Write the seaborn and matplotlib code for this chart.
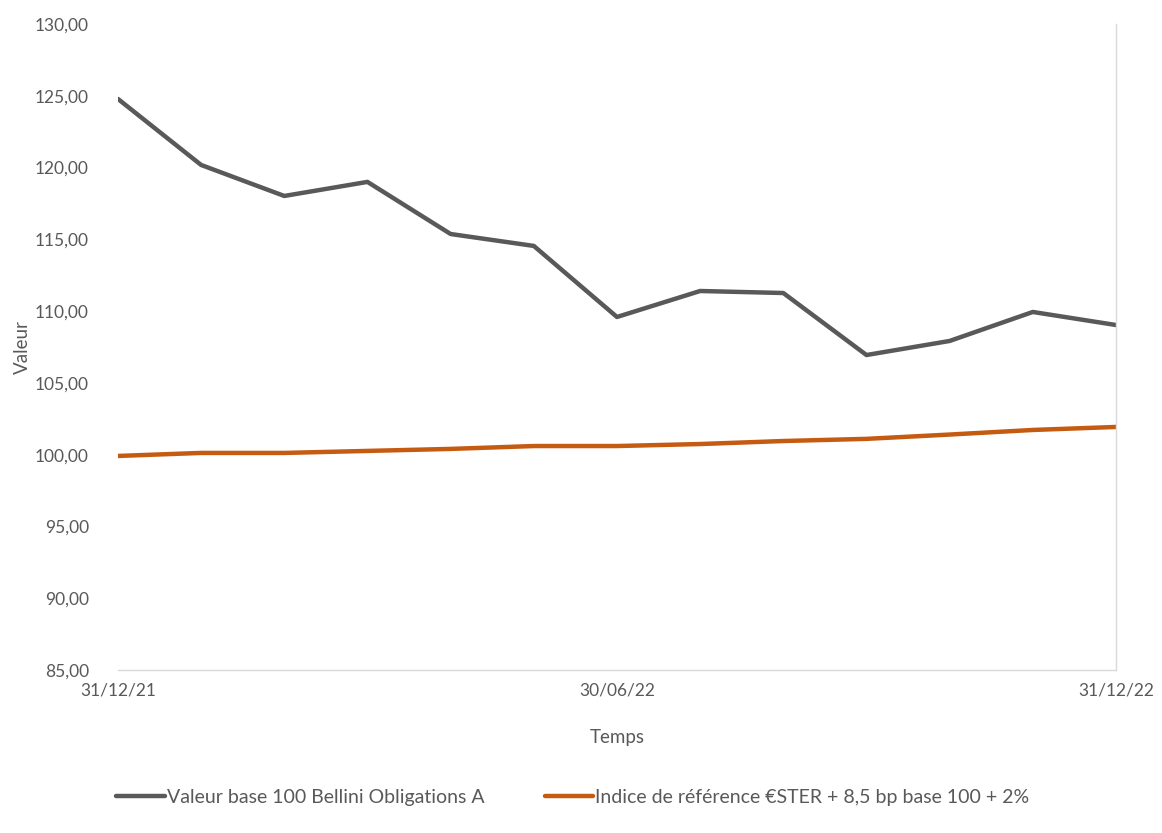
import matplotlib
matplotlib.use("Agg")
import matplotlib.pyplot as plt
import seaborn as sns
import pandas as pd

months = list(range(13))
fund_values = [124.78, 120.18, 118.02, 119.0, 115.37, 114.54, 109.59,
               111.4, 111.26, 106.94, 107.92, 109.94, 109.03]
index_values = [99.91, 100.12, 100.12, 100.26, 100.40, 100.60, 100.60,
                100.74, 100.95, 101.10, 101.40, 101.72, 101.93]
tick_positions = [0, 6, 12]
tick_labels = ["31/12/21", "30/06/22", "31/12/22"]
fund_name = "Valeur base 100 Bellini Obligations A"
index_name = "Indice de référence €STER + 8,5 bp base 100 + 2%"

sns.set_theme(style="white")
plt.rcParams['font.family'] = ['Lato', 'DejaVu Sans']

df = pd.DataFrame({
    "x": months * 2,
    "y": fund_values + index_values,
    "serie": [fund_name] * 13 + [index_name] * 13,
})

fig = plt.figure(figsize=(11.62, 8.33), dpi=100)
ax = fig.add_axes([0.1015, 0.1957, 0.8589, 0.7755])

sns.lineplot(data=df, x="x", y="y", hue="serie", ax=ax,
             palette={fund_name: "#595959", index_name: "#C55A11"},
             linewidth=3.2, legend=False)

ax.set_xlim(0, 12)
ax.set_ylim(85, 130)
ax.set_yticks(range(85, 131, 5))
ax.set_yticklabels([f"{v},00" for v in range(85, 131, 5)])
ax.set_xticks(tick_positions)
ax.set_xticklabels(tick_labels)
ax.tick_params(axis="both", colors="#595959", labelsize=12.5, length=0)
ax.tick_params(axis="y", pad=21)
ax.tick_params(axis="x", pad=9)
for s in ["top", "left"]:
    ax.spines[s].set_visible(False)
for s in ["bottom", "right"]:
    ax.spines[s].set_color("#D9D9D9")
    ax.spines[s].set_linewidth(1.0)

ax.set_xlabel("Temps", color="#595959", fontsize=13.5, labelpad=22)
ax.set_ylabel("Valeur", color="#595959", fontsize=13.5, labelpad=3)

from matplotlib.lines import Line2D
handles = [Line2D([0], [0], color="#595959", lw=3.2),
           Line2D([0], [0], color="#C55A11", lw=3.2)]
fig.legend(handles, [fund_name, index_name], loc="center",
           bbox_to_anchor=(0.493, 0.043), ncol=2, frameon=False,
           fontsize=14, labelcolor="#595959", handlelength=2.5,
           handletextpad=0.1, columnspacing=3.1)

fig.savefig("out.png", dpi=100, facecolor="white")
